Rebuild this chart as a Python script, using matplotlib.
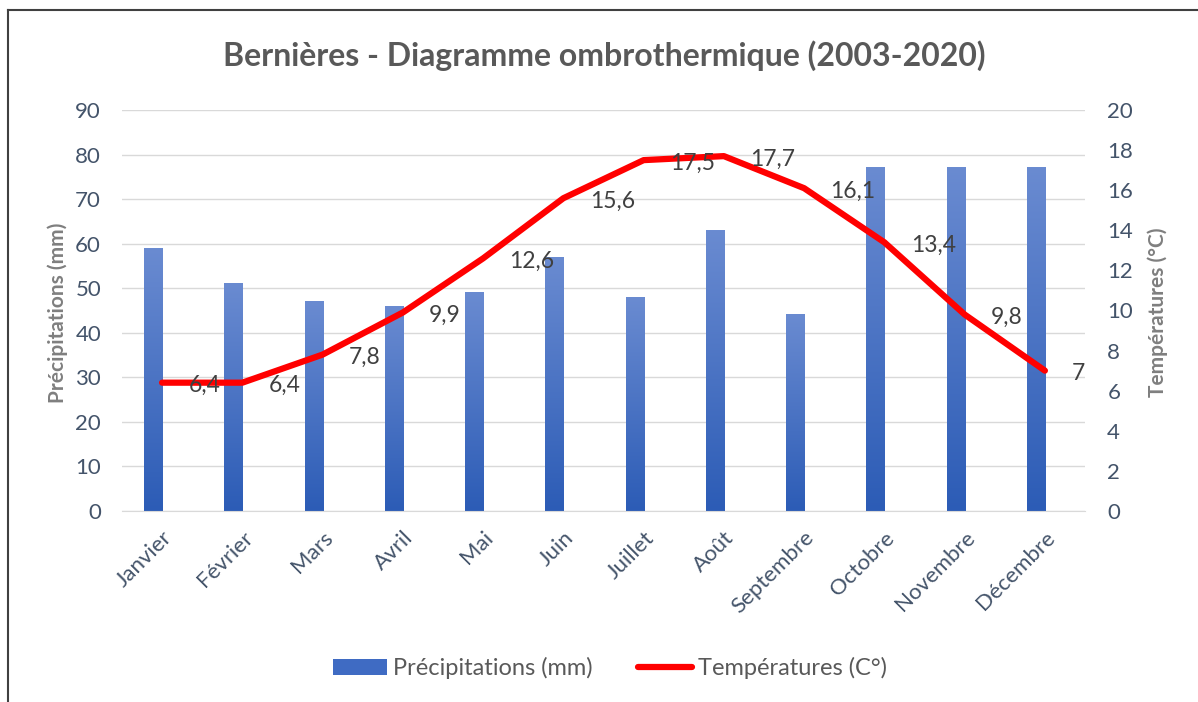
import numpy as np
import matplotlib.pyplot as plt
from matplotlib.patches import Patch
from matplotlib.lines import Line2D
from matplotlib.colors import LinearSegmentedColormap

plt.rcParams['font.family'] = ['Lato', 'DejaVu Sans']

# données climatiques de Bernières (2003-2020)
mois = ['Janvier', 'Février', 'Mars', 'Avril', 'Mai', 'Juin', 'Juillet',
        'Août', 'Septembre', 'Octobre', 'Novembre', 'Décembre']
precipitations = [59, 51, 47, 46, 49, 57, 48, 63, 44, 77, 77, 77]
temperatures = [6.4, 6.4, 7.8, 9.9, 12.6, 15.6, 17.5, 17.7, 16.1, 13.4, 9.8, 7]

axis_col = '#44546A'
text_col = '#595959'
grid_col = '#D9D9D9'

fig = plt.figure(figsize=(11.98, 7.02), dpi=100)
ax1 = fig.add_axes([0.1018, 0.2721, 0.8039, 0.5712])
ax2 = ax1.twinx()

x = np.arange(len(mois))
bw = 0.225

# barres avec dégradé vertical
grad = LinearSegmentedColormap.from_list('bleu', ['#2C5CB6', '#6A8BD1'])
bars = ax1.bar(x - bw, precipitations, width=bw, align='edge', color='none', zorder=2)
img = np.linspace(0, 1, 256).reshape(-1, 1)
for b in bars:
    x0, y0 = b.get_x(), b.get_y()
    ax1.imshow(img, cmap=grad, origin='lower', aspect='auto', zorder=2,
               extent=[x0, x0 + b.get_width(), y0, y0 + b.get_height()])

ax1.set_xlim(-0.5, len(mois) - 0.5)
ax1.set_ylim(0, 90)
ax1.set_yticks(np.arange(0, 91, 10))
ax1.grid(axis='y', color=grid_col, lw=1, zorder=0)
ax1.set_axisbelow(True)
for s in ['top', 'left', 'right']:
    ax1.spines[s].set_visible(False)
ax1.spines['bottom'].set_color(grid_col)
ax1.tick_params(axis='both', length=0, labelsize=16, labelcolor=axis_col)
ax1.tick_params(axis='y', pad=15)
ax1.set_xticks(x)
ax1.set_xticklabels(mois, rotation=45, ha='right', rotation_mode='anchor')
ax1.tick_params(axis='x', pad=12)

# courbe des températures
ax2.plot(x, temperatures, color='#FF0000', lw=4.5, solid_capstyle='round',
         solid_joinstyle='round', zorder=3)
ax2.set_ylim(0, 20)
ax2.set_yticks(np.arange(0, 21, 2))
for s in ['top', 'left', 'right', 'bottom']:
    ax2.spines[s].set_visible(False)
ax2.tick_params(axis='y', length=0, labelsize=16, labelcolor=axis_col, pad=16)
for xi, t in zip(x, temperatures):
    lab = ('%g' % t).replace('.', ',')
    ax2.annotate(lab, (xi, t), xytext=(19, -2), textcoords='offset points',
                 ha='left', va='center', fontsize=16.5, color='#404040', zorder=4)

fig.text(0.504, 0.921, 'Bernières - Diagramme ombrothermique (2003-2020)',
         ha='center', va='center', fontsize=23, fontweight='bold', color=text_col)
fig.text(0.048, 0.555, 'Précipitations (mm)', rotation=90, ha='center', va='center',
         fontsize=15, fontweight='bold', color='#7F7F7F')
fig.text(0.966, 0.555, 'Températures (°C)', rotation=90, ha='center', va='center',
         fontsize=15, fontweight='bold', color='#7F7F7F')

handles = [Patch(facecolor='#3F6BC3', edgecolor='none'),
           Line2D([0], [0], color='#FF0000', lw=4.5, solid_capstyle='round')]
fig.legend(handles, ['Précipitations (mm)', 'Températures (C°)'], loc='center',
           bbox_to_anchor=(0.509, 0.048), ncol=2, frameon=False, fontsize=17,
           labelcolor=text_col, handlelength=2.3, handleheight=0.65,
           handletextpad=0.25, columnspacing=1.9)

# cadre du graphique
fig.add_artist(Line2D([0.0063, 0.0063], [0, 0.986], color='#404040', lw=1.5))
fig.add_artist(Line2D([0.0063, 1], [0.986, 0.986], color='#404040', lw=1.5))

fig.savefig('out.png', dpi=100)
